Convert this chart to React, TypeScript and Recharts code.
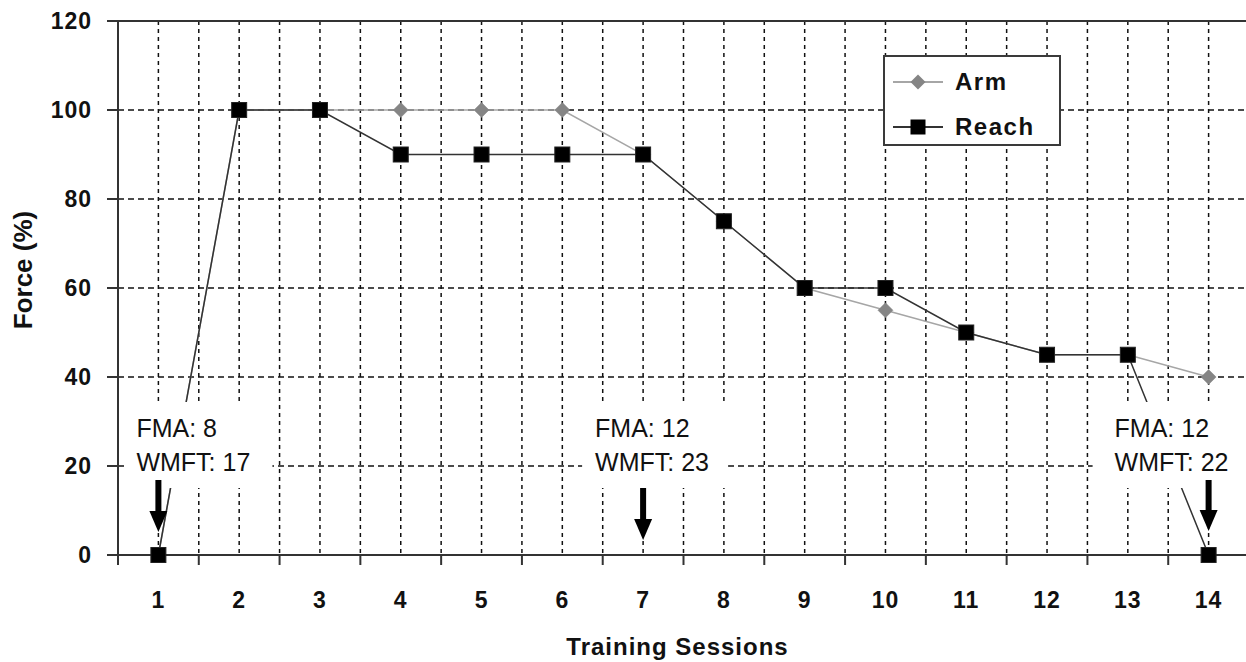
import React from 'react';
import { LineChart, Line, XAxis, YAxis, CartesianGrid, Legend, ReferenceLine, ReferenceDot, Label } from 'recharts';

// ---- data ----
const sessions = [1, 2, 3, 4, 5, 6, 7, 8, 9, 10, 11, 12, 13, 14];
const armForce = [0, 100, 100, 100, 100, 100, 90, 75, 60, 55, 50, 45, 45, 40];
const reachForce = [0, 100, 100, 90, 90, 90, 90, 75, 60, 60, 50, 45, 45, 0];
const yTicks = [0, 20, 40, 60, 80, 100, 120];
const annotationSessions = [1, 7, 14];
const annotationFMA = [8, 12, 12];
const annotationWMFT = [17, 23, 22];

// ---- layout (not data) ----
const annotTextDx = [-22, -48, -94];
const annotBoxPad = [[-12, 136], [-13, 133], [-22, 140]];
const arrowTopDy = [-75, -67, -75];
const arrowTipDy = [-23, -15, -24];

const FONT = '"Liberation Sans", Arial, sans-serif';

const data = sessions.map((s, i) => ({ session: s, arm: armForce[i], reach: reachForce[i] }));
const xTicks: number[] = [...sessions.flatMap((s) => [s - 0.5, s]), sessions[sessions.length - 1] + 0.5];

const XTick = (props: any) => {
  const { x, y, payload } = props;
  const v = payload.value;
  if (Number.isInteger(v)) {
    return (
      <text x={x} y={y + 43} textAnchor="middle" fontSize={23} fontWeight={700} fill="#111" fontFamily={FONT} letterSpacing={1}>
        {v}
      </text>
    );
  }
  return <line x1={x} x2={x} y1={y - 10} y2={y} stroke="#333" strokeWidth={2} />;
};

const Diamond = (props: any) => {
  const { cx, cy, index } = props;
  if (cx == null || cy == null) return <g key={`d${index}`} />;
  const r = 7.5;
  return (
    <path key={`d${index}`} d={`M${cx},${cy - r} L${cx + r},${cy} L${cx},${cy + r} L${cx - r},${cy} Z`} fill="#858585" stroke="#858585" strokeWidth={0.5} />
  );
};

const Square = (props: any) => {
  const { cx, cy, index } = props;
  if (cx == null || cy == null) return <g key={`s${index}`} />;
  const h = 7.5;
  return <rect key={`s${index}`} x={cx - h} y={cy - h} width={2 * h} height={2 * h} fill="#000" stroke="#222" strokeWidth={1} />;
};

const makeAnnotation = (i: number) => (props: any) => {
  const { cx, cy } = props;
  const tx = cx + annotTextDx[i];
  const boxL = tx + annotBoxPad[i][0];
  const boxR = tx + annotBoxPad[i][1];
  const top = cy + arrowTopDy[i];
  const tip = cy + arrowTipDy[i];
  const headH = 21;
  return (
    <g>
      <rect x={boxL} y={cy - 153} width={boxR - boxL} height={86} fill="#fff" />
      <text x={tx} y={cy - 118} fontSize={25} fill="#111" fontFamily={FONT}>
        {`FMA: ${annotationFMA[i]}`}
      </text>
      <text x={tx} y={cy - 84} fontSize={25} fill="#111" fontFamily={FONT}>
        {`WMFT: ${annotationWMFT[i]}`}
      </text>
      <rect x={cx - 3} y={top} width={6} height={tip - headH - top + 1} fill="#000" />
      <path d={`M${cx - 9},${tip - headH} L${cx + 9},${tip - headH} L${cx},${tip} Z`} fill="#000" />
    </g>
  );
};

const LegendBox = () => (
  <div
    style={{
      position: 'relative',
      width: 178,
      height: 91,
      boxSizing: 'border-box',
      border: '2px solid #3a3a3a',
      background: '#fff',
      fontFamily: FONT,
    }}
  >
    {[
      { name: 'Arm', kind: 'arm' },
      { name: 'Reach', kind: 'reach' },
    ].map((e, i) => (
      <div key={e.name} style={{ position: 'absolute', left: 8, top: 10 + i * 45, height: 30, display: 'flex', alignItems: 'center' }}>
        <svg width={52} height={30} style={{ display: 'block' }}>
          {e.kind === 'arm' ? (
            <>
              <line x1={0} x2={50} y1={15} y2={15} stroke="#a6a6a6" strokeWidth={2} />
              <path d="M25,7.5 L32.5,15 L25,22.5 L17.5,15 Z" fill="#858585" />
            </>
          ) : (
            <>
              <line x1={0} x2={50} y1={15} y2={15} stroke="#333" strokeWidth={2} />
              <rect x={17.5} y={7.5} width={15} height={15} fill="#000" />
            </>
          )}
        </svg>
        <span style={{ marginLeft: 10, fontSize: 24, fontWeight: 700, color: '#111', letterSpacing: 1.5, lineHeight: '30px' }}>{e.name}</span>
      </div>
    ))}
  </div>
);

export default function App() {
  return (
    <div style={{ position: 'absolute', left: 0, top: 0, width: 1246, height: 662, overflow: 'hidden', background: '#fff' }}>
      <LineChart width={1252} height={662} data={data} margin={{ top: 21, right: 3, left: 0, bottom: 0 }}>
        <CartesianGrid horizontal={true} vertical={false} stroke="#111" strokeWidth={1.5} strokeDasharray="6 4" />
        <CartesianGrid horizontal={false} vertical={true} stroke="#111" strokeWidth={1.5} strokeDasharray="4 4" />
        <XAxis
          dataKey="session"
          type="number"
          domain={[0.5, 14.5]}
          ticks={xTicks}
          interval={0}
          tickLine={false}
          tickSize={10}
          tickMargin={0}
          height={107}
          axisLine={{ stroke: '#333', strokeWidth: 2 }}
          tick={<XTick />}
        >
          <Label
            value="Training Sessions"
            position="insideBottom"
            offset={7}
            dx={-6}
            style={{ fontSize: 24, fontWeight: 700, fill: '#111', fontFamily: FONT, letterSpacing: 1 }}
          />
        </XAxis>
        <YAxis
          type="number"
          domain={[0, 120]}
          ticks={yTicks}
          interval={0}
          width={118}
          tickSize={11}
          tickMargin={15}
          axisLine={{ stroke: '#333', strokeWidth: 2 }}
          tickLine={{ stroke: '#333', strokeWidth: 2 }}
          tick={{ fontSize: 23, fontWeight: 700, fill: '#111', fontFamily: FONT, letterSpacing: 1 }}
        >
          <Label
            content={(p: any) => {
              const vb = p.viewBox || { x: 0, y: 21, width: 118, height: 534 };
              const x = vb.x + 32;
              const y = vb.y + vb.height / 2 - 18;
              return (
                <text x={x} y={y} transform={`rotate(-90, ${x}, ${y})`} textAnchor="middle" fontSize={26} fontWeight={700} fill="#111" fontFamily={FONT}>
                  Force (%)
                </text>
              );
            }}
          />
        </YAxis>
        <ReferenceLine y={120} stroke="#333" strokeWidth={2} />
        <Line dataKey="arm" name="Arm" stroke="#a6a6a6" strokeWidth={1.5} dot={<Diamond />} activeDot={false} isAnimationActive={false} />
        <Line dataKey="reach" name="Reach" stroke="#333" strokeWidth={1.5} dot={<Square />} activeDot={false} isAnimationActive={false} />
        {annotationSessions.map((s, i) => (
          <ReferenceDot key={s} x={s} y={0} r={0} ifOverflow="visible" shape={makeAnnotation(i)} />
        ))}
        <Legend
          layout="vertical"
          align="center"
          verticalAlign="middle"
          content={() => <LegendBox />}
          wrapperStyle={{ position: 'absolute', left: 883, top: 55, width: 178, height: 91 }}
        />
      </LineChart>
    </div>
  );
}
